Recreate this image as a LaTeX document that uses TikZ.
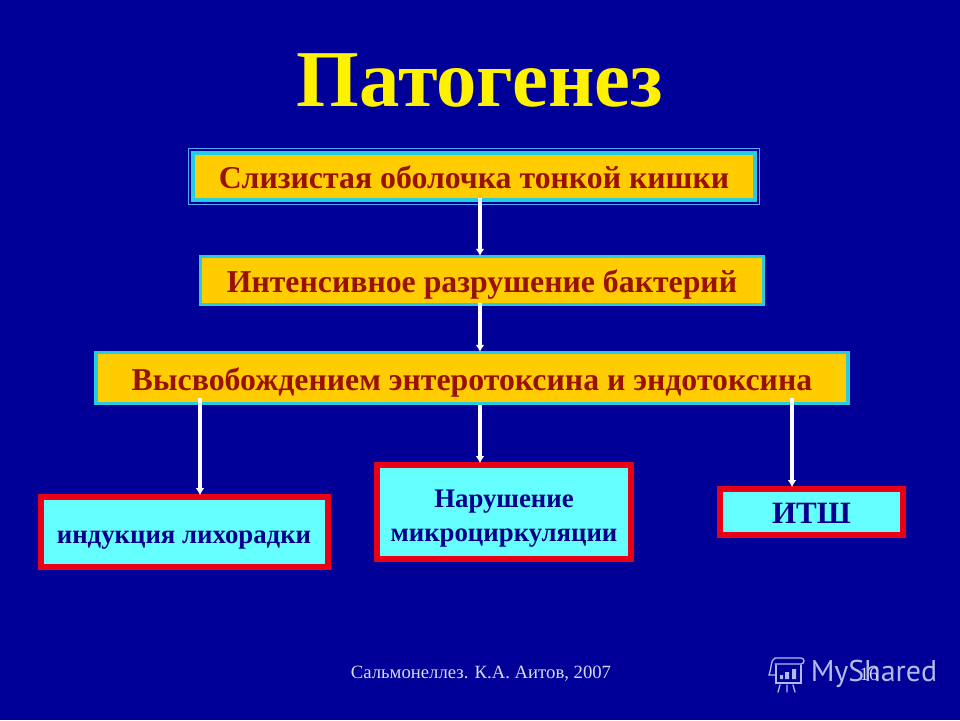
\documentclass[tikz,border=0pt]{standalone}
\usepackage{fontspec}
\setmainfont{Liberation Serif}
\newfontfamily\markfont{PT Sans}
\usetikzlibrary{fit,arrows.meta}
\definecolor{slidebg}{RGB}{0,0,153}
\definecolor{gold}{RGB}{255,204,0}
\definecolor{rust}{RGB}{153,17,0}
\definecolor{aqua}{RGB}{40,204,225}
\definecolor{frameblue}{RGB}{80,170,255}
\definecolor{pale}{RGB}{102,255,255}
\definecolor{alert}{RGB}{234,0,22}
\definecolor{inkblue}{RGB}{0,0,140}
\definecolor{marklilac}{RGB}{178,186,232}
\begin{document}
\begin{tikzpicture}[x=1pt, y=-1pt, node distance=100pt,
  stage/.style={rectangle, draw=aqua, fill=gold, line width=3.5pt, text=rust, font=\bfseries\fontsize{31.8}{33}\selectfont, inner sep=0pt, text height=24pt, text depth=0pt},
  outcome/.style={rectangle, draw=alert, fill=pale, line width=6pt, text=inkblue, font=\bfseries\fontsize{26.8}{34}\selectfont, align=center, inner sep=0pt, text height=22pt, text depth=0pt},
  flow/.style={draw=white, line width=3.5pt, -{Latex[length=7pt,width=9pt]}, shorten >=-1pt}]
  \fill[slidebg] (0,0) rectangle (960,720);
  \useasboundingbox (0,0) rectangle (960,720);

  \node[text=yellow, font=\bfseries\fontsize{80.7}{90}\selectfont] (title) at (480,80) {Патогенез};
  \node[stage, minimum width=562pt, minimum height=47pt] (mucosa) at (474,176.5) {Слизистая оболочка тонкой кишки};
  \node[draw=frameblue, line width=1pt, inner sep=3pt, fit=(mucosa)] (frame) {};
  \node[stage, below of=mucosa, xshift=8pt, node distance=104pt, minimum width=563pt, minimum height=48pt] (bacteria) {Интенсивное разрушение бактерий};
  \node[stage, below of=bacteria, xshift=-10pt, node distance=97.5pt, minimum width=752pt, minimum height=51pt] (toxin) {Высвобождением энтеротоксина и эндотоксина};

  \node[outcome, minimum width=287pt, minimum height=70pt] (fever) at (184,532) {индукция лихорадки};
  \node[outcome, minimum width=254pt, minimum height=94pt, text height=58pt] (micro) at (504,512) {Нарушение\\микроциркуляции};
  \node[outcome, minimum width=183pt, minimum height=46pt, font=\bfseries\fontsize{31}{33}\selectfont] (shock) at (811.5,512) {ИТШ};

  \draw[flow] ([xshift=6pt, yshift=4pt]mucosa.south) -- ([xshift=-2pt]bacteria.north);
  \draw[flow] ([xshift=-2pt, yshift=3pt]bacteria.south) -- ([xshift=8pt]toxin.north);
  \draw[flow] ([xshift=-272pt, yshift=7pt]toxin.south) -- ([xshift=16pt]fever.north);
  \draw[flow] ([xshift=8pt]toxin.south) -- ([xshift=-24pt]micro.north);
  \draw[flow] ([xshift=320pt, yshift=7pt]toxin.south) -- ([xshift=-19.5pt]shock.north);

  \node[text=marklilac, font=\markfont\fontsize{30}{34}\selectfont] (brand) at (874,674) {MyShared};
  \begin{scope}[draw=marklilac, line width=1.3pt, line cap=round]
    \draw (776,665) -- (776,683) -- (801,683) -- (801,665);
    \draw[rounded corners=3pt] (775,658) -- (804,658) -- (804,664) -- (775,664);
    \draw (775,658) .. controls (770,660) and (772,668) .. (769,675) -- (775,675);
    \draw (780,685) -- (778,692) (787,685) -- (787,692) (793,685) -- (795,692);
    \fill[marklilac] (780,675) rectangle (783,679) (785,672) rectangle (789,679) (792,669) rectangle (796,679);
  \end{scope}
  \node[font=\fontsize{18.7}{22}\selectfont, text=white!85!slidebg] (footer) at (481,674) {Сальмонеллез. К.А. Аитов, 2007};
  \node[font=\fontsize{18.7}{22}\selectfont, text=white!85!slidebg] (page) at (869,674) {16};
\end{tikzpicture}
\end{document}
